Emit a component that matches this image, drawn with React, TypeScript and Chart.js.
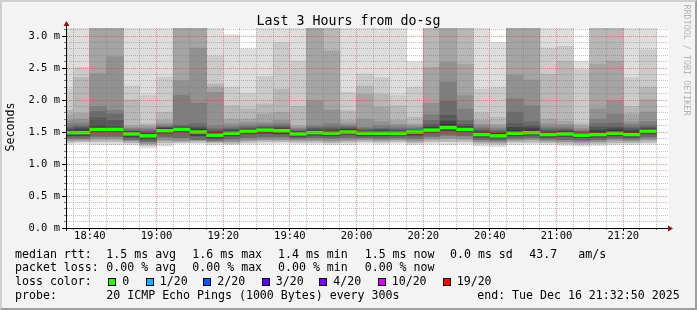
import React, { useEffect, useRef } from 'react';
import { Chart, registerables } from 'chart.js';

Chart.register(...registerables);

// ---------- data ----------
const graphStart = '18:32:50';
const graphEnd = '21:32:50';
const stepEnds = ['18:35','18:40','18:45','18:50','18:55','19:00','19:05','19:10','19:15','19:20','19:25','19:30','19:35','19:40','19:45','19:50','19:55','20:00','20:05','20:10','20:15','20:20','20:25','20:30','20:35','20:40','20:45','20:50','20:55','21:00','21:05','21:10','21:15','21:20','21:25','21:30'];

// median rtt (ms)
const median = [1.49,1.49,1.54,1.54,1.47,1.44,1.52,1.54,1.50,1.45,1.48,1.51,1.53,1.52,1.47,1.49,1.48,1.50,1.48,1.48,1.48,1.50,1.53,1.57,1.54,1.46,1.44,1.48,1.49,1.46,1.47,1.45,1.46,1.48,1.46,1.51];

// sorted ping ranks above the median (ms)
const ping20 = [3.3,3.3,3.3,3.3,3.3,3.3,3.3,3.3,3.3,3.3,3.02,2.80,3.3,3.3,3.3,3.3,3.3,3.3,3.3,3.3,3.3,2.60,3.3,3.3,3.3,3.3,2.90,3.3,3.3,3.3,3.3,2.61,3.3,3.3,3.3,3.3];
const ping19 = [2.17,2.51,3.3,3.3,2.22,2.07,2.36,3.3,3.3,2.69,2.20,2.10,2.37,2.90,2.61,3.3,3.3,2.12,2.41,2.35,2.07,2.20,3.3,3.3,3.3,2.17,2.20,3.3,3.3,2.81,2.84,2.47,3.3,3.3,2.35,2.78];
const ping18 = [1.84,2.35,3.3,3.3,2.00,1.63,1.81,3.3,3.3,2.25,1.91,1.86,1.94,2.17,1.90,3.3,3.3,1.83,2.22,2.09,1.91,1.73,3.3,3.3,3.3,1.80,1.73,3.3,3.3,2.40,2.61,1.64,3.3,3.3,1.90,2.20];
const ping17 = [1.77,1.79,3.3,3.3,1.60,1.60,1.68,3.3,3.3,2.20,1.70,1.70,1.78,1.81,1.60,3.3,2.77,1.68,2.09,1.89,1.68,1.63,2.51,3.3,2.56,1.68,1.62,3.3,3.3,1.70,1.67,1.60,2.56,2.61,1.78,2.01];
const ping16 = [1.68,1.70,2.41,2.68,1.57,1.57,1.63,2.30,2.81,2.12,1.63,1.65,1.65,1.68,1.57,1.99,1.84,1.63,1.70,1.66,1.62,1.60,1.95,2.59,2.07,1.62,1.58,2.39,2.31,1.63,1.62,1.56,1.86,1.99,1.66,1.81];
const ping15 = [1.63,1.64,1.90,1.84,1.55,1.55,1.60,2.07,1.95,1.60,1.59,1.61,1.62,1.63,1.55,1.60,1.63,1.60,1.57,1.60,1.58,1.57,1.77,2.28,1.86,1.58,1.55,2.02,1.91,1.58,1.58,1.53,1.70,1.78,1.62,1.66];
const ping14 = [1.58,1.60,1.82,1.78,1.53,1.52,1.58,1.61,1.63,1.55,1.56,1.58,1.59,1.60,1.53,1.57,1.58,1.58,1.55,1.56,1.55,1.55,1.68,1.98,1.68,1.55,1.52,1.81,1.66,1.55,1.55,1.51,1.63,1.64,1.58,1.60];
const ping13 = [1.55,1.57,1.72,1.68,1.51,1.50,1.57,1.59,1.58,1.52,1.54,1.56,1.57,1.58,1.51,1.55,1.55,1.56,1.53,1.54,1.53,1.53,1.62,1.76,1.62,1.52,1.50,1.63,1.60,1.52,1.53,1.50,1.58,1.58,1.55,1.57];
const ping12 = [1.53,1.55,1.60,1.58,1.50,1.48,1.56,1.57,1.55,1.50,1.52,1.54,1.56,1.56,1.50,1.53,1.52,1.54,1.51,1.52,1.51,1.52,1.58,1.67,1.59,1.50,1.48,1.57,1.56,1.50,1.51,1.48,1.53,1.55,1.52,1.55];
const ping11 = [1.52,1.52,1.57,1.56,1.49,1.46,1.55,1.56,1.53,1.48,1.50,1.53,1.55,1.54,1.49,1.51,1.50,1.53,1.50,1.50,1.50,1.51,1.56,1.62,1.57,1.49,1.47,1.52,1.53,1.49,1.49,1.47,1.50,1.52,1.50,1.53];

// sorted ping ranks below the median (ms)
const ping9 = [1.44,1.44,1.50,1.50,1.42,1.39,1.48,1.50,1.44,1.40,1.44,1.47,1.48,1.47,1.43,1.45,1.44,1.46,1.44,1.44,1.45,1.45,1.49,1.52,1.50,1.42,1.40,1.44,1.45,1.42,1.43,1.41,1.42,1.44,1.42,1.47];
const ping7 = [1.40,1.40,1.43,1.43,1.38,1.35,1.42,1.41,1.38,1.37,1.39,1.41,1.42,1.42,1.40,1.41,1.40,1.41,1.41,1.40,1.41,1.40,1.43,1.45,1.44,1.38,1.37,1.40,1.41,1.39,1.38,1.37,1.38,1.40,1.39,1.42];
const ping5 = [1.37,1.375,1.39,1.39,1.36,1.32,1.37,1.36,1.37,1.35,1.35,1.37,1.38,1.38,1.37,1.37,1.36,1.37,1.38,1.37,1.38,1.36,1.39,1.40,1.39,1.35,1.34,1.37,1.38,1.36,1.35,1.34,1.35,1.37,1.36,1.38];
const ping3 = [1.34,1.35,1.35,1.35,1.33,1.29,1.33,1.34,1.34,1.33,1.32,1.34,1.35,1.35,1.34,1.34,1.33,1.34,1.35,1.34,1.35,1.33,1.35,1.35,1.35,1.32,1.31,1.34,1.34,1.33,1.32,1.31,1.32,1.33,1.33,1.34];
const ping1 = [1.31,1.32,1.30,1.30,1.30,1.25,1.28,1.32,1.32,1.30,1.30,1.31,1.31,1.32,1.31,1.31,1.30,1.30,1.32,1.31,1.32,1.30,1.31,1.30,1.31,1.28,1.27,1.30,1.31,1.30,1.29,1.28,1.29,1.30,1.30,1.31];

const xTickLabels = ['18:40','19:00','19:20','19:40','20:00','20:20','20:40','21:00','21:20'];
const yTickLabels = ['0.0 m','0.5 m','1.0 m','1.5 m','2.0 m','2.5 m','3.0 m'];
const yMax = 3.125;

const titleText = 'Last 3 Hours from do-sg';
const rttLabel = 'median rtt:';
const rttStats = ['1.5 ms avg','1.6 ms max','1.4 ms min','1.5 ms now','0.0 ms sd','43.7','am/s'];
const lossLabel = 'packet loss:';
const lossStats = ['0.00 % avg','0.00 % max','0.00 % min','0.00 % now'];
const lossColorLabel = 'loss color:';
const lossNames = ['0','1/20','2/20','3/20','4/20','10/20','19/20'];
const lossColors = ['#26ff00','#00b8ff','#0059ff','#5e00ff','#7e00ff','#dd00ff','#ff0000'];
const probeLabel = 'probe:';
const probeText = '20 ICMP Echo Pings (1000 Bytes) every 300s';
const endText = 'end: Tue Dec 16 21:32:50 2025';
const sideText = 'RRDTOOL / TOBI OETIKER';

// ---------- helpers / layout ----------
const MONO = '"DejaVu Sans Mono", monospace';
const toMin = (t: string) => {
  const p = t.split(':').map(Number);
  return p[0] * 60 + p[1] + (p[2] || 0) / 60 - 18 * 60;
};
const STEP = 5;
const xMin = toMin(graphStart);
const xMax = toMin(graphEnd);
const majorX = xTickLabels.map((t) => toMin(t));
const majorY = yTickLabels.map((_, i) => i / 2);

const RED = 'rgba(255,40,40,0.5)';
const GRAY = 'rgba(120,120,120,0.45)';

const AREA = { left: 66, top: 28, right: 666, bottom: 228 };

const minorXVals: number[] = [];
for (let v = Math.ceil(xMin / STEP) * STEP; v <= xMax; v += STEP) minorXVals.push(v);
const minorYVals: number[] = [];
for (let i = 1; i / 10 <= yMax; i++) minorYVals.push(i / 10);

const near = (list: number[], v: number) => list.some((m) => Math.abs(m - v) < 1e-6);

const upperSet = [
  { d: ping20, c: '#dddddd' }, { d: ping19, c: '#cacaca' }, { d: ping18, c: '#b7b7b7' },
  { d: ping17, c: '#a4a4a4' }, { d: ping16, c: '#919191' }, { d: ping15, c: '#7e7e7e' },
  { d: ping14, c: '#6b6b6b' }, { d: ping13, c: '#585858' }, { d: ping12, c: '#454545' },
  { d: ping11, c: '#323232' },
];
const lowerSet = [
  { d: ping1, c: '#dddddd' }, { d: ping3, c: '#b7b7b7' }, { d: ping5, c: '#919191' },
  { d: ping7, c: '#6b6b6b' }, { d: ping9, c: '#454545' },
];

function buildDatasets() {
  const centers = stepEnds.map((t) => toMin(t) - STEP / 2);
  const list: any[] = [];
  upperSet.forEach((s, k) =>
    list.push({ label: 'u' + k, backgroundColor: s.c, data: centers.map((x, i) => ({ x, y: [median[i], s.d[i]] })) })
  );
  lowerSet.forEach((s, k) =>
    list.push({ label: 'l' + k, backgroundColor: s.c, data: centers.map((x, i) => ({ x, y: [s.d[i], median[i]] })) })
  );
  const hw = 0.022;
  list.push({ label: 'median', backgroundColor: lossColors[0], data: centers.map((x, i) => ({ x, y: [median[i] - hw, median[i] + hw] })) });
  return list.map((d, i) => ({
    ...d,
    order: list.length - i,
    grouped: false,
    barPercentage: 1,
    categoryPercentage: 1,
    borderWidth: 0,
    clip: 0,
  }));
}

const decor = {
  id: 'decor',
  beforeDraw(chart: any) {
    const { ctx, chartArea: a } = chart;
    ctx.save();
    ctx.fillStyle = '#ffffff';
    ctx.fillRect(a.left, a.top, a.right - a.left + 3, a.bottom - a.top);
    ctx.restore();
  },
  afterDatasetsDraw(chart: any) {
    const { ctx, chartArea: a } = chart;
    const xs = chart.scales.x;
    const ys = chart.scales.y;
    const seg = (x1: number, y1: number, x2: number, y2: number, color: string) => {
      ctx.strokeStyle = color;
      ctx.beginPath();
      ctx.moveTo(x1, y1);
      ctx.lineTo(x2, y2);
      ctx.stroke();
    };
    const vx = (v: number) => Math.floor(xs.getPixelForValue(v)) + 0.5;
    const vy = (v: number) => Math.floor(ys.getPixelForValue(v)) + 0.5;
    ctx.save();
    ctx.lineWidth = 1;
    ctx.setLineDash([1, 1]);
    // minor dotted grid
    for (const v of minorXVals) {
      if (near(majorX, v)) continue;
      seg(vx(v), a.top, vx(v), a.bottom, GRAY);
    }
    for (const v of minorYVals) {
      if (near(majorY, v)) continue;
      seg(a.left + 1, vy(v), a.right + 3, vy(v), GRAY);
    }
    // major dotted grid
    for (const v of majorX) seg(vx(v), a.top, vx(v), a.bottom, RED);
    for (const v of majorY) {
      if (v === 0) continue;
      seg(a.left + 1, vy(v), a.right + 3, vy(v), RED);
    }
    // tick marks
    ctx.setLineDash([]);
    for (const v of minorXVals) {
      const major = near(majorX, v);
      seg(vx(v), a.bottom + 1, vx(v), a.bottom + (major ? 3 : 2), major ? '#000' : 'rgba(0,0,0,0.5)');
    }
    for (const v of [0, ...minorYVals]) {
      const major = near(majorY, v);
      seg(a.left - (major ? 4 : 2), vy(v), a.left, vy(v), major ? '#000' : 'rgba(0,0,0,0.5)');
    }
    ctx.restore();
  },
  afterDraw(chart: any) {
    const { ctx, chartArea: a } = chart;
    ctx.save();
    ctx.strokeStyle = '#000';
    ctx.lineWidth = 1;
    ctx.beginPath();
    ctx.moveTo(a.left + 0.5, a.bottom + 3);
    ctx.lineTo(a.left + 0.5, a.top - 3);
    ctx.moveTo(a.left - 3, a.bottom + 0.5);
    ctx.lineTo(a.right + 3, a.bottom + 0.5);
    ctx.stroke();
    ctx.fillStyle = '#8b1414';
    ctx.beginPath();
    ctx.moveTo(a.left + 0.5, a.top - 7);
    ctx.lineTo(a.left - 2.5, a.top - 2);
    ctx.lineTo(a.left + 3.5, a.top - 2);
    ctx.closePath();
    ctx.fill();
    ctx.beginPath();
    ctx.moveTo(a.right + 7, a.bottom + 0.5);
    ctx.lineTo(a.right + 2, a.bottom - 2.5);
    ctx.lineTo(a.right + 2, a.bottom + 3.5);
    ctx.closePath();
    ctx.fill();
    ctx.restore();
  },
};

function Txt({ x, base, size = 11.6, text, color = '#000' }: any) {
  return (
    <div
      style={{
        position: 'absolute', left: x, top: base - 0.846 * size, fontSize: size,
        lineHeight: `${size}px`, whiteSpace: 'pre', color, fontFamily: MONO,
      }}
    >
      {text}
    </div>
  );
}

export default function App() {
  const ref = useRef<HTMLCanvasElement>(null);

  useEffect(() => {
    const chart = new Chart(ref.current as HTMLCanvasElement, {
      type: 'bar',
      data: { datasets: buildDatasets() as any },
      plugins: [decor],
      options: {
        animation: false,
        responsive: false,
        events: [],
        layout: { padding: { left: AREA.left - 66, top: AREA.top, right: 697 - AREA.right, bottom: 0 } },
        plugins: { legend: { display: false }, tooltip: { enabled: false }, title: { display: false } },
        scales: {
          x: {
            type: 'linear',
            min: xMin,
            max: xMax,
            offset: false,
            afterBuildTicks: (s: any) => {
              s.ticks = majorX.map((v) => ({ value: v }));
            },
            afterFit: (s: any) => { s.height = 310 - AREA.bottom; },
            grid: { display: false, offset: false, drawTicks: true, tickLength: 3 },
            border: { display: false },
            ticks: {
              autoSkip: false,
              maxRotation: 0,
              padding: -1,
              color: '#000',
              font: { family: 'DejaVu Sans Mono', size: 10.5 },
              callback: (v: any) => {
                const i = majorX.findIndex((m) => Math.abs(m - Number(v)) < 1e-6);
                return i >= 0 ? xTickLabels[i] : '';
              },
            },
          },
          y: {
            type: 'linear',
            min: 0,
            max: yMax,
            afterBuildTicks: (s: any) => {
              s.ticks = majorY.map((v) => ({ value: v }));
            },
            afterFit: (s: any) => { s.width = AREA.left; },
            grid: { display: false, drawTicks: true, tickLength: 4 },
            border: { display: false },
            ticks: {
              autoSkip: false,
              padding: 2,
              color: '#000',
              font: { family: 'DejaVu Sans Mono', size: 10.5 },
              callback: (v: any) => yTickLabels[Math.round(Number(v) * 2)],
            },
          },
        },
      } as any,
    });
    return () => chart.destroy();
  }, []);

  const col = [15, 106.3, 192.3, 278, 364.7, 450, 529.2, 578.3];
  const lossBoxX = [108.3, 145.7, 203.3, 261.7, 319.3, 377.7, 442.7];
  const L1 = 258.5, L2 = 272.3, L3 = 286, L4 = 299.8;

  return (
    <div
      style={{
        position: 'fixed', left: 0, top: 0, width: 697, height: 310, overflow: 'hidden',
        background: '#f3f3f3', fontFamily: MONO, color: '#000',
      }}
    >
      <canvas ref={ref} width={697} height={310} style={{ position: 'absolute', left: 0, top: 0 }} />
      <div
        style={{
          position: 'absolute', left: 0, top: 0, width: 697, height: 310, boxSizing: 'border-box',
          borderStyle: 'solid', borderWidth: 2, borderColor: '#cfcfcf #9e9e9e #9e9e9e #cfcfcf',
          pointerEvents: 'none',
        }}
      />
      <div
        style={{
          position: 'absolute', left: 0, width: 697, top: 25 - 0.846 * 13.3, fontSize: 13.3,
          lineHeight: '13.3px', textAlign: 'center', whiteSpace: 'pre',
        }}
      >
        {titleText}
      </div>
      <div
        style={{
          position: 'absolute', left: 11, top: 126.7, transform: 'translate(-50%,-50%) rotate(-90deg)',
          fontSize: 11.6, lineHeight: '11.6px', whiteSpace: 'pre',
        }}
      >
        Seconds
      </div>
      <div
        style={{
          position: 'absolute', left: 686.7, top: 60, transform: 'translate(-50%,-50%) rotate(90deg)',
          fontSize: 8.4, lineHeight: '8.4px', whiteSpace: 'pre', color: '#b4b4b4',
        }}
      >
        {sideText}
      </div>

      <Txt x={col[0]} base={L1} text={rttLabel} />
      {rttStats.map((s, i) => <Txt key={'r' + i} x={col[i + 1]} base={L1} text={s} />)}

      <Txt x={col[0]} base={L2} text={lossLabel} />
      {lossStats.map((s, i) => <Txt key={'p' + i} x={col[i + 1]} base={L2} text={s} />)}

      <Txt x={col[0]} base={L3} text={lossColorLabel} />
      {lossNames.map((n, i) => (
        <React.Fragment key={'lc' + i}>
          <div
            style={{
              position: 'absolute', left: lossBoxX[i], top: L3 - 8, width: 8, height: 8,
              boxSizing: 'border-box', border: '1px solid #000', background: lossColors[i],
            }}
          />
          <Txt x={lossBoxX[i] + 14} base={L3} text={n} />
        </React.Fragment>
      ))}

      <Txt x={col[0]} base={L4} text={probeLabel} />
      <Txt x={col[1]} base={L4} text={probeText} />
      <Txt x={477.2} base={L4} text={endText} />
    </div>
  );
}
